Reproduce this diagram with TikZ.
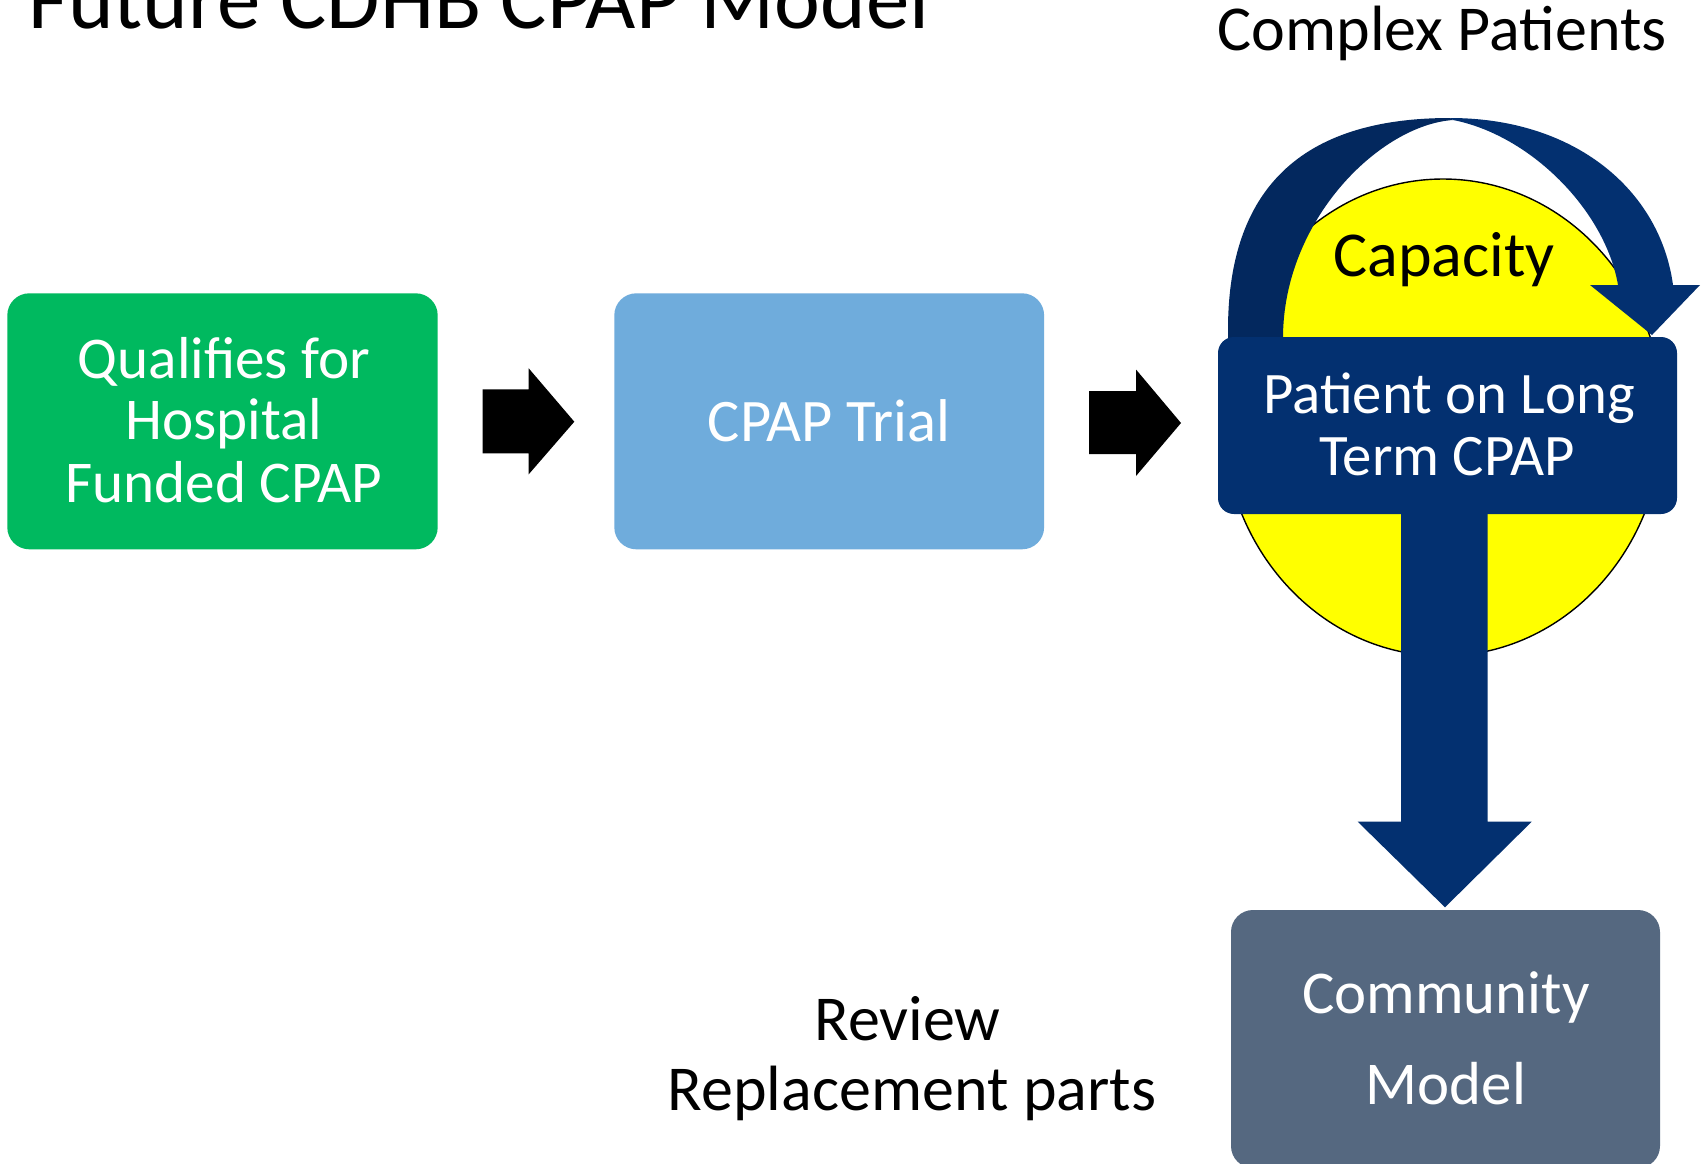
\documentclass[tikz,border=0pt]{standalone}
\usepackage{fontspec}
\setmainfont{Carlito}
\usetikzlibrary{shapes.geometric}
\definecolor{cgreen}{RGB}{0,185,95}
\definecolor{clblue}{RGB}{111,172,220}
\definecolor{cnavy}{RGB}{3,48,112}
\definecolor{cnavyd}{RGB}{3,40,94}
\definecolor{cslate}{RGB}{85,104,128}
\definecolor{cyellow}{RGB}{255,255,0}
\begin{document}
\begin{tikzpicture}[x=0.5pt,y=-0.5pt,
  box/.style={rectangle, rounded corners=11pt, draw=none, inner sep=0pt},
  boxtxt/.style={inner sep=0pt, anchor=base, text=white, font=\fontsize{29.6}{34}\selectfont},
  plaintxt/.style={inner sep=0pt, anchor=base, text=black, font=\fontsize{32}{37}\selectfont},
  blockarrow/.style={fill=black, draw=none}]
\useasboundingbox (0,0) rectangle (1704,1163);
\fill[white] (0,0) rectangle (1704,1163);

% title
\node[inner sep=0pt, anchor=base west, font=\fontsize{43.4}{50}\selectfont] (title) at (28,28) {Future CDHB CPAP Model};

% boxes
\node[box, fill=cgreen, minimum width=215.2pt, minimum height=128pt] (qual) at (222.5,421.3) {};
\node[box, fill=clblue, minimum width=214.9pt, minimum height=128pt] (trial) at (829.2,421.3) {};

% capacity ellipse
\node[ellipse, draw=black, line width=0.7pt, fill=cyellow, minimum width=220pt, minimum height=238.5pt, inner sep=0pt] (capbg) at (1443,417.5) {};

% curved arrow: back band
\fill[cnavyd] (1228,345) -- (1228,330) .. controls (1228,190) and (1300,118) .. (1450,118)
  -- (1453,120) .. controls (1380,125) and (1283,220) .. (1283,338) -- (1283,345) -- cycle;
% curved arrow: front band with head
\fill[cnavy] (1450,118) .. controls (1575,118) and (1660,190) .. (1673,285)
  -- (1700,285) -- (1652,335) -- (1590,285) -- (1618,285)
  .. controls (1605,210) and (1530,135) .. (1453,120) -- cycle;

\node[box, rounded corners=8pt, fill=cnavy, minimum width=229.5pt, minimum height=88.5pt] (longterm) at (1447.5,425.5) {};
\node[box, fill=cslate, minimum width=214.5pt, minimum height=129pt] (community) at (1445.5,1039) {};

% block arrows
\fill[blockarrow] (482.7,389.3) -- (528.7,389.3) -- (528.7,368.3) -- (574.3,421.7) -- (528.7,474.3) -- (528.7,453.3) -- (482.7,453.3) -- cycle;
\fill[blockarrow] (1089,391) -- (1136,391) -- (1136,369.5) -- (1181,423) -- (1136,476) -- (1136,454) -- (1089,454) -- cycle;
\fill[cnavy] (1401,513) -- (1401,821.7) -- (1357.7,821.7) -- (1445,907.3) -- (1531.7,821.7) -- (1487.7,821.7) -- (1487.7,513) -- cycle;

% texts
\node[boxtxt] (q1) at (224,378.3) {Qualifies for};
\node[boxtxt] (q2) at (224,439.3) {Hospital};
\node[boxtxt] (q3) at (224,502.7) {Funded CPAP};
\node[boxtxt, font=\fontsize{30.2}{34}\selectfont] (t1) at (829,441) {CPAP Trial};
\node[boxtxt, font=\fontsize{29.4}{34}\selectfont] (p1) at (1449,413) {Patient on Long};
\node[boxtxt, font=\fontsize{29.4}{34}\selectfont] (p2) at (1447,475) {Term CPAP};
\node[boxtxt, font=\fontsize{30.4}{36}\selectfont] (c1) at (1446,1013) {Community};
\node[boxtxt, font=\fontsize{30.4}{36}\selectfont] (c2) at (1446,1104) {Model};
\node[plaintxt] (cap) at (1444,276.7) {Capacity};
\node[plaintxt] (cx) at (1442,50) {Complex Patients};
\node[plaintxt] (r1) at (907.5,1040.8) {Review};
\node[plaintxt] (r2) at (912,1110) {Replacement parts};
\end{tikzpicture}
\end{document}
